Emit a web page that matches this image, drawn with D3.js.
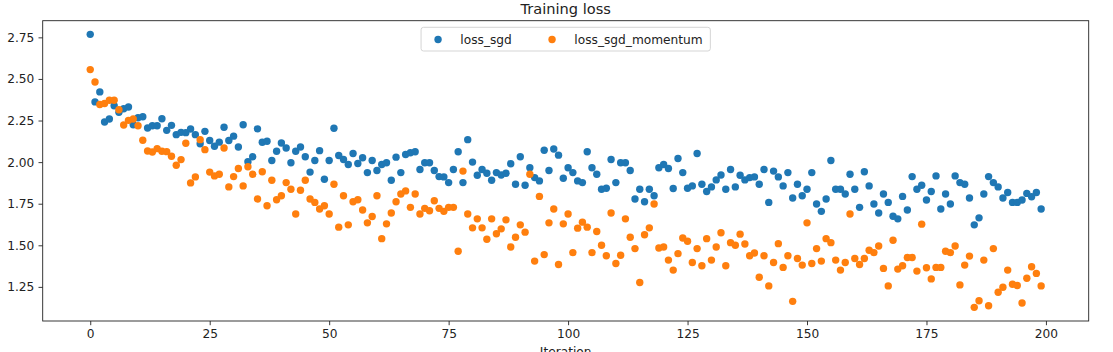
<!DOCTYPE html>
<html>
<head>
<meta charset="utf-8">
<script src="https://cdn.jsdelivr.net/npm/d3@7"></script>
<style>
  body { margin: 0; background: #fff; }
  svg { display: block; font-family: 'DejaVu Sans', sans-serif; }
</style>
</head>
<body>
<div id="chart"></div>
<script>
// Data
const lossSgd = [
  2.768, 2.362, 2.422, 2.241, 2.259, 2.339, 2.299, 2.321, 2.331, 2.225,
  2.267, 2.273, 2.205, 2.219, 2.219, 2.261, 2.191, 2.221, 2.165, 2.179,
  2.177, 2.199, 2.165, 2.110, 2.185, 2.130, 2.095, 2.120, 2.210, 2.130,
  2.156, 2.091, 2.225, 2.002, 2.032, 2.200, 2.119, 2.125, 2.010, 2.065,
  2.115, 2.085, 1.996, 2.065, 2.091, 2.032, 1.940, 2.010, 2.069, 1.897,
  2.010, 2.204, 2.040, 2.016, 1.986, 2.052, 1.992, 2.026, 1.937, 2.010,
  1.950, 1.986, 1.996, 1.891, 2.030, 1.937, 2.046, 2.056, 2.062, 1.956,
  1.996, 1.996, 1.950, 1.913, 1.911, 1.877, 1.956, 2.062, 1.877, 2.135,
  2.000, 1.921, 1.956, 1.933, 1.891, 1.937, 1.923, 1.933, 1.990, 1.867,
  2.032, 1.861, 1.966, 1.907, 1.887, 2.071, 1.950, 2.079, 2.042, 1.903,
  1.966, 1.937, 1.887, 1.877, 2.062, 1.966, 1.927, 1.837, 1.843, 2.016,
  1.877, 1.996, 1.996, 1.950, 1.778, 1.837, 1.762, 1.837, 1.798, 1.966,
  1.986, 1.962, 1.841, 2.022, 1.937, 1.843, 1.857, 2.052, 1.867, 1.823,
  1.851, 1.893, 1.923, 1.837, 1.956, 1.851, 1.921, 1.893, 1.907, 1.911,
  1.867, 1.956, 1.758, 1.946, 1.911, 1.857, 1.937, 1.784, 1.867, 1.798,
  1.837, 1.937, 1.748, 1.704, 1.778, 2.010, 1.837, 1.837, 1.808, 1.927,
  1.837, 1.728, 1.942, 1.857, 1.748, 1.694, 1.808, 1.758, 1.675, 1.659,
  1.794, 1.712, 1.913, 1.837, 1.861, 1.772, 1.823, 1.917, 1.718, 1.808,
  1.748, 1.917, 1.877, 1.867, 1.784, 1.623, 1.665, 1.808, 1.913, 1.877,
  1.851, 1.784, 1.817, 1.758, 1.758, 1.772, 1.812, 1.792, 1.817, 1.718
]

const lossSgdMomentum = [
  2.556, 2.482, 2.346, 2.352, 2.372, 2.372, 2.315, 2.223, 2.251, 2.259,
  2.219, 2.131, 2.067, 2.061, 2.081, 2.065, 2.063, 2.035, 1.981, 2.015,
  2.113, 1.875, 1.911, 2.135, 2.075, 1.940, 1.917, 1.927, 2.085, 1.851,
  1.913, 1.962, 1.857, 1.972, 1.927, 1.778, 1.942, 1.738, 1.891, 1.774,
  1.798, 1.877, 1.837, 1.688, 1.831, 1.891, 1.778, 1.758, 1.718, 1.738,
  1.688, 1.867, 1.609, 1.798, 1.623, 1.762, 1.774, 1.712, 1.635, 1.673,
  1.798, 1.540, 1.629, 1.694, 1.762, 1.808, 1.827, 1.728, 1.808, 1.688,
  1.722, 1.708, 1.768, 1.722, 1.704, 1.728, 1.728, 1.464, 1.946, 1.688,
  1.605, 1.659, 1.605, 1.536, 1.659, 1.569, 1.599, 1.653, 1.490, 1.548,
  1.623, 1.579, 1.927, 1.405, 1.794, 1.444, 1.635, 1.718, 1.385, 1.629,
  1.688, 1.456, 1.603, 1.639, 1.609, 1.456, 1.583, 1.500, 1.437, 1.694,
  1.391, 1.440, 1.659, 1.548, 1.480, 1.276, 1.563, 1.605, 1.748, 1.484,
  1.490, 1.411, 1.351, 1.450, 1.544, 1.524, 1.397, 1.480, 1.377, 1.540,
  1.411, 1.490, 1.575, 1.377, 1.516, 1.500, 1.567, 1.508, 1.437, 1.454,
  1.308, 1.437, 1.256, 1.397, 1.510, 1.367, 1.437, 1.163, 1.421, 1.381,
  1.635, 1.391, 1.480, 1.405, 1.540, 1.516, 1.411, 1.351, 1.397, 1.688,
  1.421, 1.385, 1.421, 1.470, 1.456, 1.496, 1.361, 1.256, 1.530, 1.357,
  1.377, 1.427, 1.427, 1.345, 1.627, 1.365, 1.298, 1.367, 1.367, 1.464,
  1.456, 1.496, 1.262, 1.381, 1.435, 1.127, 1.167, 1.411, 1.137, 1.480,
  1.218, 1.248, 1.351, 1.266, 1.258, 1.153, 1.302, 1.371, 1.331, 1.256
]

const seriesNames = ['loss_sgd', 'loss_sgd_momentum']
const seriesColors = ['#1f77b4', '#ff7f0e']
const xTicks = [0, 25, 50, 75, 100, 125, 150, 175, 200]
const yTicks = [1.25, 1.50, 1.75, 2.00, 2.25, 2.50, 2.75]
const chartTitle = 'Training loss'
const xLabel = 'Iteration'

function draw() {
  const series = [lossSgd, lossSgdMomentum].map((values, k) => ({
    name: seriesNames[k],
    color: seriesColors[k],
    points: values.map((v, i) => ({ iter: i, loss: v }))
  }))
  const allPoints = series.flatMap(s => s.points)

  const xAccessor = d => d.iter
  const yAccessor = d => d.loss

  // Dimensions
  let dimensions = {
    width: 1113,
    height: 352,
    margin: {
      top: 20.7,
      bottom: 31,
      left: 42.7,
      right: 24.3
    }
  }
  dimensions.ctrWidth = dimensions.width - dimensions.margin.left - dimensions.margin.right
  dimensions.ctrHeight = dimensions.height - dimensions.margin.top - dimensions.margin.bottom

  const fontSize = 12.2
  const dotRadius = 3.7

  // Draw image
  const svg = d3.select('#chart')
    .append('svg')
    .attr('width', dimensions.width)
    .attr('height', dimensions.height)

  const ctr = svg.append('g')
    .attr('transform', `translate(${dimensions.margin.left}, ${dimensions.margin.top})`)

  // Scales (matplotlib style 5% margins)
  const pad = (ext) => {
    const m = (ext[1] - ext[0]) * 0.05
    return [ext[0] - m, ext[1] + m]
  }

  const xScale = d3.scaleLinear()
    .domain(pad(d3.extent(allPoints, xAccessor)))
    .range([0, dimensions.ctrWidth])

  const yScale = d3.scaleLinear()
    .domain(pad(d3.extent(allPoints, yAccessor)))
    .range([dimensions.ctrHeight, 0])

  // Draw circles
  series.forEach(s => {
    ctr.append('g')
      .selectAll('circle')
      .data(s.points)
      .join('circle')
      .attr('cx', d => xScale(xAccessor(d)))
      .attr('cy', d => yScale(yAccessor(d)))
      .attr('r', dotRadius)
      .attr('fill', s.color)
  })

  // Axis
  const xAxis = d3.axisBottom(xScale)
    .tickValues(xTicks)
    .tickSize(4.2)
    .tickPadding(4.2)
    .tickSizeOuter(0)

  const xAxisGroup = ctr.append('g')
    .attr('transform', `translate(0, ${dimensions.ctrHeight})`)
    .call(xAxis)

  const yAxis = d3.axisLeft(yScale)
    .tickValues(yTicks)
    .tickFormat(d3.format('.2f'))
    .tickSize(4.2)
    .tickPadding(4.2)
    .tickSizeOuter(0)

  const yAxisGroup = ctr.append('g')
    .call(yAxis)

  ;[xAxisGroup, yAxisGroup].forEach(g => {
    g.select('.domain').remove()
    g.attr('font-family', 'DejaVu Sans').attr('font-size', fontSize)
    g.selectAll('line').attr('stroke', '#222').attr('stroke-width', 0.9)
    g.selectAll('text').attr('fill', '#222')
  })

  // frame
  ctr.append('rect')
    .attr('x', 0)
    .attr('y', 0)
    .attr('width', dimensions.ctrWidth)
    .attr('height', dimensions.ctrHeight)
    .attr('fill', 'none')
    .attr('stroke', '#222')
    .attr('stroke-width', 0.9)

  // x label sits at the bottom edge, partly cut off as in the original
  xAxisGroup.append('text')
    .text(xLabel)
    .attr('fill', '#222')
    .attr('x', dimensions.ctrWidth / 2)
    .attr('y', 35)
    .attr('text-anchor', 'middle')

  // Title
  svg.append('text')
    .text(chartTitle)
    .attr('x', dimensions.margin.left + dimensions.ctrWidth / 2)
    .attr('y', dimensions.margin.top - 7.2)
    .attr('text-anchor', 'middle')
    .attr('font-size', 14.6)
    .attr('fill', '#222')

  // Legend
  const legendWidth = 289.3
  const legend = ctr.append('g')
    .attr('transform', `translate(${dimensions.ctrWidth / 2 - legendWidth / 2}, 6.6)`)

  legend.append('rect')
    .attr('width', legendWidth)
    .attr('height', 23.7)
    .attr('rx', 2.5)
    .attr('fill', 'rgba(255,255,255,0.8)')
    .attr('stroke', '#d0d0d0')
    .attr('stroke-width', 0.9)

  const entryX = [17, 131]
  series.forEach((s, k) => {
    legend.append('circle')
      .attr('cx', entryX[k])
      .attr('cy', 12.2)
      .attr('r', dotRadius)
      .attr('fill', s.color)
    legend.append('text')
      .text(s.name)
      .attr('x', entryX[k] + 22.3)
      .attr('y', 12.2)
      .attr('dy', '0.35em')
      .attr('font-size', fontSize)
      .attr('fill', '#222')
  })
}

draw()
</script>
</body>
</html>
